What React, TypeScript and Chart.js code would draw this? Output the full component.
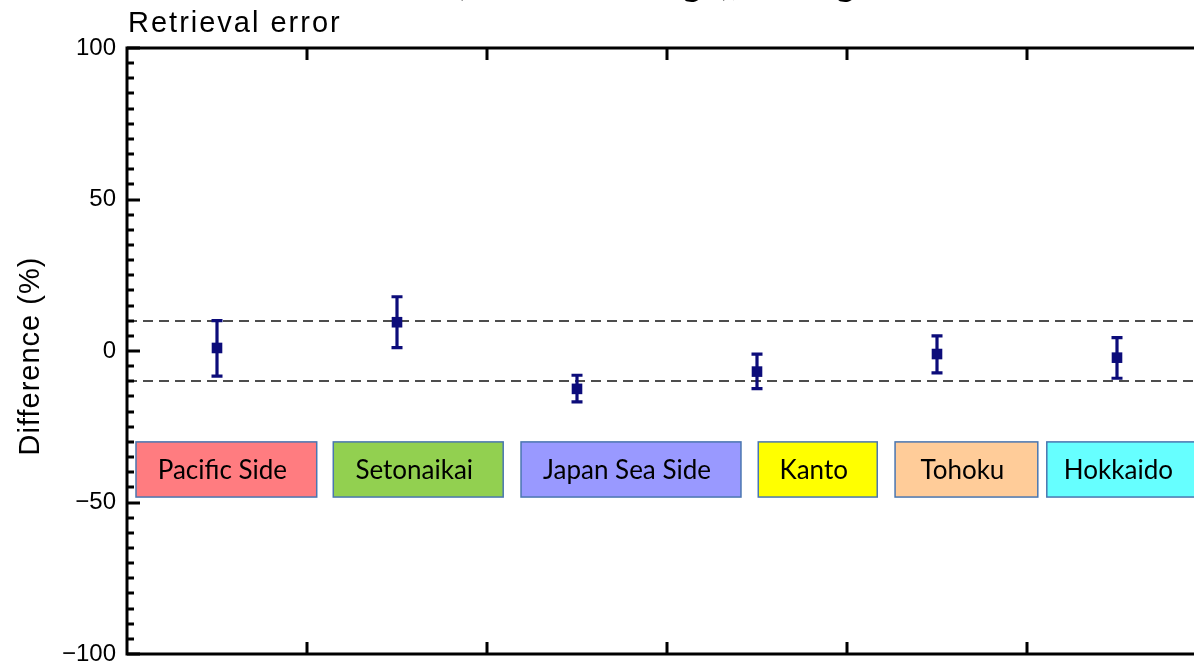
import React, { useEffect, useRef } from "react";
import { Chart, registerables } from "chart.js";

Chart.register(...registerables);

// ---- data ----
const regions = ["Pacific Side", "Setonaikai", "Japan Sea Side", "Kanto", "Tohoku", "Hokkaido"];
const xPositions = [0.5, 1.5, 2.5, 3.5, 4.5, 5.5];
const meanDiff = [1.0, 9.5, -12.5, -6.8, -1.0, -2.2];
const errUpper = [10.0, 17.9, -8.0, -1.0, 5.0, 4.4];
const errLower = [-8.3, 1.1, -16.8, -12.4, -7.2, -9.0];
const boxStart = [0.05, 1.146, 2.189, 3.507, 4.267, 5.11];
const boxEnd = [1.054, 2.09, 3.411, 4.168, 5.06, 5.95];
const boxTop = -30;
const boxBottom = -48.2;
const boxColors = ["#FF7C80", "#92D050", "#9999FF", "#FFFF00", "#FFCC99", "#66FFFF"];
const thresholds = [10, -10];
const yMin = -100;
const yMax = 100;
const xMin = 0;
const xMax = 6;
const yMajorStep = 50;
const yMinorStep = 5;
const xMajorStep = 1;
const titleText = "(Annual average), All regions";
const subTitleText = "Retrieval error";
const yAxisTitle = "Difference (%)";

const NAVY = "#0c0c7a";
const SANS = "'Liberation Sans', Arial, sans-serif";
const BOXFONT = "Lato, 'Open Sans', sans-serif";

const decorPlugin = {
  id: "decor",
  beforeDatasetsDraw(chart: any) {
    const { ctx, chartArea: a, scales } = chart;
    const x = scales.x;
    const y = scales.y;
    ctx.save();
    // dashed threshold lines
    ctx.strokeStyle = "#4d4d4d";
    ctx.lineWidth = 2;
    ctx.setLineDash([10, 6]);
    thresholds.forEach((v) => {
      const py = Math.round(y.getPixelForValue(v));
      ctx.beginPath();
      ctx.moveTo(a.left, py);
      ctx.lineTo(a.right, py);
      ctx.stroke();
    });
    ctx.setLineDash([]);

    // region boxes
    regions.forEach((name, i) => {
      const x0 = x.getPixelForValue(boxStart[i]);
      const x1 = x.getPixelForValue(boxEnd[i]);
      const y0 = y.getPixelForValue(boxTop);
      const y1 = y.getPixelForValue(boxBottom);
      ctx.fillStyle = boxColors[i];
      ctx.fillRect(x0, y0, x1 - x0, y1 - y0);
      ctx.strokeStyle = "#4a76b0";
      ctx.lineWidth = 1.5;
      ctx.strokeRect(x0, y0, x1 - x0, y1 - y0);
      ctx.fillStyle = "#000";
      ctx.font = `26px ${BOXFONT}`;
      ctx.textAlign = "center";
      ctx.textBaseline = "alphabetic";
      ctx.fillText(name, (x0 + x1) / 2 - 4, y0 + (y1 - y0) / 2 + 9.5);
    });

    // error bars
    ctx.strokeStyle = NAVY;
    ctx.lineWidth = 3.2;
    xPositions.forEach((xv, i) => {
      const px = x.getPixelForValue(xv);
      const pt = y.getPixelForValue(errUpper[i]);
      const pb = y.getPixelForValue(errLower[i]);
      ctx.beginPath();
      ctx.moveTo(px, pt);
      ctx.lineTo(px, pb);
      ctx.moveTo(px - 5.5, pt);
      ctx.lineTo(px + 5.5, pt);
      ctx.moveTo(px - 5.5, pb);
      ctx.lineTo(px + 5.5, pb);
      ctx.stroke();
    });
    ctx.restore();
  },
  afterDraw(chart: any) {
    const { ctx, chartArea: a, scales } = chart;
    const x = scales.x;
    const y = scales.y;
    ctx.save();
    ctx.strokeStyle = "#000";
    ctx.lineWidth = 3;
    ctx.lineCap = "butt";
    // frame
    ctx.strokeRect(a.left, a.top, a.right - a.left, a.bottom - a.top);
    // y ticks (inward, both sides)
    ctx.beginPath();
    for (let v = yMin; v <= yMax + 1e-6; v += yMinorStep) {
      const py = Math.round(y.getPixelForValue(v));
      const len = v % yMajorStep === 0 ? 13 : 7;
      ctx.moveTo(a.left, py);
      ctx.lineTo(a.left + len, py);
      ctx.moveTo(a.right, py);
      ctx.lineTo(a.right - len, py);
    }
    // x ticks (inward, top and bottom)
    for (let v = xMin + xMajorStep; v < xMax; v += xMajorStep) {
      const px = Math.round(x.getPixelForValue(v));
      ctx.moveTo(px, a.bottom);
      ctx.lineTo(px, a.bottom - 12);
      ctx.moveTo(px, a.top);
      ctx.lineTo(px, a.top + 12);
    }
    ctx.stroke();

    // texts
    ctx.fillStyle = "#000";
    ctx.textAlign = "left";
    ctx.textBaseline = "alphabetic";
    ctx.font = `38px ${BOXFONT}`;
    ctx.fillText(titleText, 455, -5);

    ctx.font = `29px ${SANS}`;
    (ctx as any).letterSpacing = "2px";
    ctx.fillText(subTitleText, 128, 32);

    ctx.save();
    ctx.translate(39, 356);
    ctx.rotate(-Math.PI / 2);
    ctx.textAlign = "center";
    ctx.font = `29px ${SANS}`;
    (ctx as any).letterSpacing = "1px";
    ctx.fillText(yAxisTitle, 0, 0);
    ctx.restore();
    ctx.restore();
  },
};

export default function App() {
  const ref = useRef<HTMLCanvasElement | null>(null);
  useEffect(() => {
    if (!ref.current) return;
    const chart = new Chart(ref.current, {
      type: "scatter",
      data: {
        datasets: [
          {
            label: "Difference",
            data: xPositions.map((xv, i) => ({ x: xv, y: meanDiff[i] })),
            pointStyle: "rect",
            pointRadius: 7.5,
            pointHoverRadius: 7.5,
            backgroundColor: NAVY,
            borderColor: NAVY,
            borderWidth: 0,
          },
        ],
      },
      options: {
        responsive: false,
        animation: false,
        devicePixelRatio: 1,
        layout: { padding: { top: 48, left: 0, right: 93, bottom: 11 } },
        plugins: {
          legend: { display: false },
          tooltip: { enabled: false },
          title: { display: false },
        },
        scales: {
          x: {
            type: "linear",
            display: false,
            min: xMin,
            max: xMax,
          },
          y: {
            type: "linear",
            min: yMin,
            max: yMax,
            border: { display: false },
            grid: { display: false, drawTicks: false },
            ticks: {
              stepSize: yMajorStep,
              padding: 11,
              color: "#000",
              font: { family: SANS, size: 24 },
              callback: (v: any) => (v < 0 ? "\u2212" + Math.abs(v) : String(v)),
            },
            afterFit: (s: any) => {
              s.width = 127;
              s.paddingTop = 0;
              s.paddingBottom = 0;
            },
          },
        },
      },
      plugins: [decorPlugin],
    } as any);
    return () => chart.destroy();
  }, []);
  return (
    <div
      style={{
        position: "fixed",
        left: 0,
        top: 0,
        width: 1194,
        height: 665,
        overflow: "hidden",
        background: "#fff",
      }}
    >
      <canvas ref={ref} width={1300} height={665} style={{ width: 1300, height: 665, display: "block" }} />
    </div>
  );
}
